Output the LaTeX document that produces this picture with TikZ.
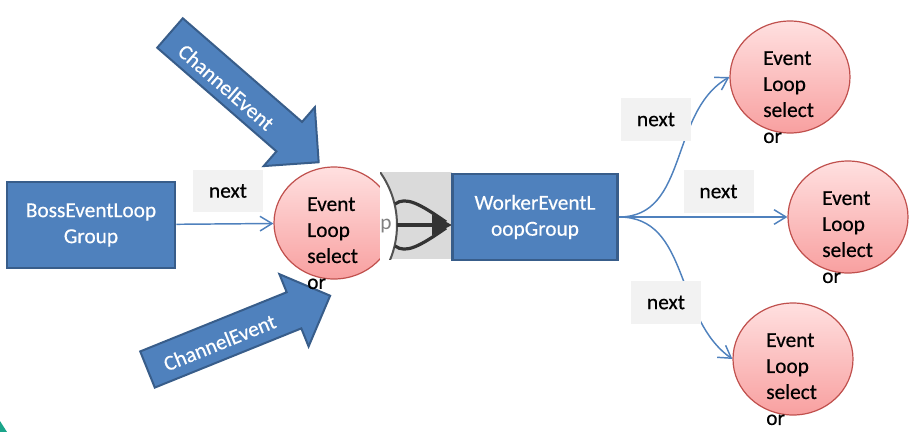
\documentclass[tikz,border=0pt]{standalone}
\usepackage{fontspec}
\setmainfont{Carlito}
\usetikzlibrary{arrows.meta,shapes.geometric}

\definecolor{boxblue}{HTML}{4F81BD}
\definecolor{boxline}{HTML}{385D8A}
\definecolor{loopred}{HTML}{C0504D}
\definecolor{looptop}{HTML}{FFE0E0}
\definecolor{loopbot}{HTML}{F8A0A0}
\definecolor{labelgray}{HTML}{F2F2F2}
\definecolor{shotgray}{HTML}{DADADA}
\definecolor{shotline}{HTML}{333333}
\definecolor{cornerteal}{HTML}{1AA58A}

\tikzset{
  evfont/.style={font=\fontsize{16}{19.5}\selectfont\addfontfeature{FakeBold=0.4}},
  groupbox/.style={evfont, draw=boxline, fill=boxblue, line width=2pt, text=white, align=center,
    minimum height=64.5pt, inner sep=0pt},
  evloop/.style={ellipse, draw=loopred, line width=0.9pt, top color=looptop, bottom color=loopbot,
    minimum width=90pt, minimum height=84pt, inner sep=0pt},
  evtext/.style={evfont, anchor=north west, align=left, inner sep=0pt},
  nextlabel/.style={evfont, fill=labelgray, minimum width=52.5pt, minimum height=32pt, inner sep=0pt},
  nextline/.style={draw=boxblue, line width=1.1pt, -{Straight Barb[length=9pt,width=11pt]}},
  chanarrow/.style={draw=boxline, fill=boxblue, line width=1.5pt, line join=miter},
  chantext/.style={evfont, text=white, inner sep=0pt, transform shape},
}

\begin{document}
\begin{tikzpicture}[x=0.75pt, y=-0.75pt]
    \useasboundingbox (0,0) rectangle (915,432);
    \fill[cornerteal] (0,421) -- (7,432) -- (0,432) -- cycle;

    % ChannelEvent arrows
    \begin{scope}[shift={(170,33)}, rotate=-41]
    \draw[chanarrow] (0,-19.5) -- (158,-19.5) -- (158,-39) -- (197,0) -- (158,39) -- (158,19.5) -- (0,19.5) -- cycle;
    \node[chantext] (chtop) at (78,4) {ChannelEvent};
    \end{scope}
    \begin{scope}[shift={(147.5,369.5)}, rotate=22]
    \draw[chanarrow] (0,-19.5) -- (158,-19.5) -- (158,-39) -- (197,0) -- (158,39) -- (158,19.5) -- (0,19.5) -- cycle;
    \node[chantext] (chbot) at (77,2) {ChannelEvent};
    \end{scope}

    % boss side
    \node[groupbox, minimum width=126pt] (boss) at (91,225) {BossEventLoop\\Group};
    \node[evloop] (ev0) at (334,223) {};
    \node[evtext] (ev0txt) at ([shift={(-27,-26)}]ev0.center) {Event\\Loop\\select\\or};

    % cut of a screenshot
    \begin{scope}
    \clip (380,172) rectangle (452,259);
    \fill[shotgray] (380,172) rectangle (452,259);
    \draw[fill=white, draw=shotline!85, line width=1.5pt] (306,225) circle[radius=91];
    \node[text=gray, anchor=base west, inner sep=0pt, font=\fontsize{16}{19.5}\selectfont] (pchar) at (380,229) {p};
    \draw[shotline, line width=2.4pt] (395,204) .. controls (406,196) and (420,204) .. (446,222);
    \draw[shotline, line width=2.4pt] (395,246) .. controls (406,254) and (420,246) .. (446,228);
    \draw[shotline, line width=2.6pt, -{Triangle[length=15pt,width=15pt]}] (397,225) -- (452,225);
    \end{scope}

    \node[groupbox, minimum width=124pt] (worker) at (535,217) {WorkerEventL\\oopGroup};

    % worker side
    \node[evloop] (ev1) at (790,77) {};
    \node[evloop] (ev2) at (848,217) {};
    \node[evloop] (ev3) at (793,359) {};

    \draw[nextline] (boss) -- (ev0);
    \draw[nextline] (worker.east) to[out=0, in=210] (ev1.west);
    \draw[nextline] (worker.east) -- (ev2.west);
    \draw[nextline] (worker.east) to[out=0, in=145] (ev3.west);

    \node[evtext] (ev1txt) at ([shift={(-27,-26)}]ev1.center) {Event\\Loop\\select\\or};
    \node[evtext] (ev2txt) at ([shift={(-26,-26)}]ev2.center) {Event\\Loop\\select\\or};
    \node[evtext] (ev3txt) at ([shift={(-27,-26)}]ev3.center) {Event\\Loop\\select\\or};

    \node[nextlabel] (nx0) at (228,191) {next};
    \node[nextlabel] (nx1) at (656,119.5) {next};
    \node[nextlabel] (nx2) at (718.5,191.5) {next};
    \node[nextlabel] (nx3) at (666,302.5) {next};
\end{tikzpicture}
\end{document}
